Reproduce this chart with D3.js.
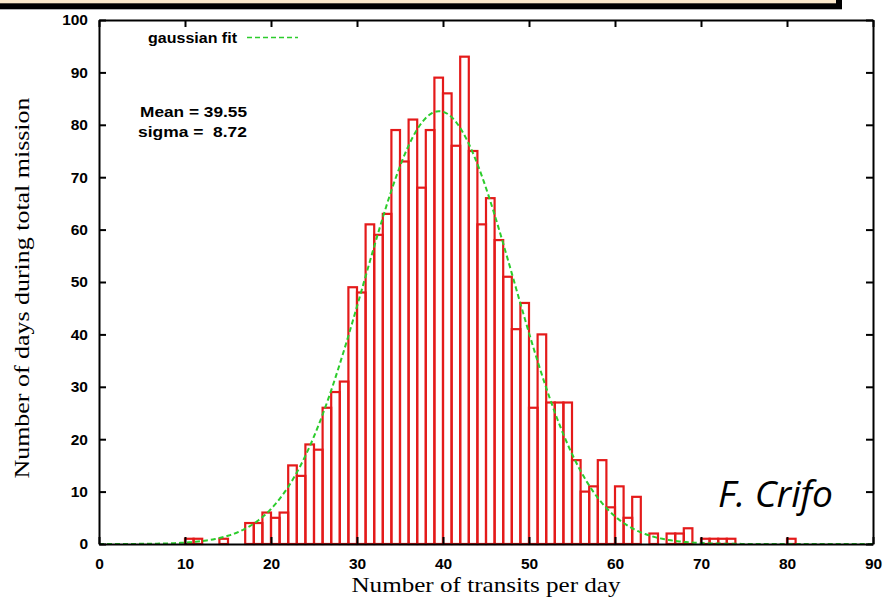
<!DOCTYPE html>
<html>
<head>
<meta charset="utf-8">
<script src="https://cdn.jsdelivr.net/npm/d3@7"></script>
<style>
  html, body { margin: 0; padding: 0; background: #fff; }
  svg { display: block; }
</style>
</head>
<body>
<svg id="canvas" width="886" height="597"></svg>
<script>
// Histogram bins (lower edge of each 1-wide bin) and the counts.
const BINS = [10, 11, 14, 17, 18, 19, 20, 21, 22, 23, 24, 25, 26, 27, 28, 29,
              30, 31, 32, 33, 34, 35, 36, 37, 38, 39, 40, 41, 42, 43, 44, 45,
              46, 47, 48, 49, 50, 51, 52, 53, 54, 55, 56, 57, 58, 59, 60, 61,
              62, 64, 66, 67, 68, 70, 71, 72, 73, 80];
const COUNTS = [1, 1, 1, 4, 4, 6, 5, 6, 15, 13, 19, 18, 26, 29, 31, 49,
                48, 61, 59, 63, 79, 73, 81, 68, 79, 89, 86, 76, 93, 75, 61, 66,
                58, 51, 41, 46, 26, 40, 27, 27, 27, 16, 10, 11, 16, 7, 11, 5,
                9, 2, 2, 2, 3, 1, 1, 1, 1, 1];

// Gaussian fit parameters as printed on the chart (peak).
const FIT_MEAN = 39.55;
const FIT_SIGMA = 8.72;
const FIT_PEAK = 82.6;

const X_TICKS = [0, 10, 20, 30, 40, 50, 60, 70, 80, 90];
const Y_TICKS = [0, 10, 20, 30, 40, 50, 60, 70, 80, 90, 100];

const X_TITLE = "Number of transits per day";
const Y_TITLE = "Number of days during total mission";
const LEGEND_LABEL = "gaussian fit";
const STATS_LINES = ["Mean = 39.55", "sigma =  8.72"];
const CREDIT = "F. Crifo";

(() => {
    const BAR_COLOR = "#e41a1a";
    const FIT_COLOR = "#2ccc2c";
    const TICK_FONT = "'Liberation Sans', Arial, Helvetica, sans-serif";
    const TITLE_FONT = "'Liberation Serif', 'Times New Roman', serif";

    let canvas = d3.select("#canvas");

    // Plot frame in pixels.
    const left = 99, right = 873, top = 20, bottom = 544;

    let x = d3.scaleLinear().domain([0, 90]).range([left, right]);
    let y = d3.scaleLinear().domain([0, 100]).range([bottom, top]);

    // Beige banner corner at the top of the slide.
    canvas.append("rect")
        .attr("x", -10).attr("y", -10)
        .attr("width", 852).attr("height", 19.3)
        .attr("fill", "#000");
    canvas.append("rect")
        .attr("x", -10).attr("y", -10)
        .attr("width", 846).attr("height", 13.3)
        .attr("fill", "#fbe9cb");

    // Histogram boxes.
    let bars = BINS.map((b, i) => ({ bin: b, count: COUNTS[i] }));
    canvas.append("g")
        .selectAll("rect")
        .data(bars)
        .enter()
        .append("rect")
        .attr("x", d => x(d.bin))
        .attr("y", d => y(d.count))
        .attr("width", d => x(d.bin + 1) - x(d.bin))
        .attr("height", d => y(0) - y(d.count))
        .attr("fill", "none")
        .attr("stroke", BAR_COLOR)
        .attr("stroke-width", 2.2);

    // Gaussian fit curve.
    let gauss = v => FIT_PEAK * Math.exp(-0.5 * Math.pow((v - FIT_MEAN) / FIT_SIGMA, 2));
    let fitX = d3.range(0, 90.01, 0.25);
    let line = d3.line()
        .x(d => x(d))
        .y(d => y(gauss(d)));
    canvas.append("path")
        .datum(fitX)
        .attr("d", line)
        .attr("fill", "none")
        .attr("stroke", FIT_COLOR)
        .attr("stroke-width", 2)
        .attr("stroke-dasharray", "5,3");

    // Axes: ticks point inward, gnuplot style.
    function styleAxis(g, withLabels) {
        g.select(".domain").attr("stroke", "#000").attr("stroke-width", 2);
        g.selectAll(".tick line").attr("stroke", "#000").attr("stroke-width", 2);
        g.selectAll(".tick text")
            .attr("fill", "#000")
            .attr("font-family", TICK_FONT)
            .attr("font-weight", "bold")
            .attr("font-size", 15.5);
        if (!withLabels) {
            g.selectAll(".tick text").remove();
        }
    }

    canvas.append("g")
        .attr("transform", `translate(0,${bottom})`)
        .call(d3.axisBottom(x).tickValues(X_TICKS).tickSize(-7).tickSizeOuter(0).tickPadding(14))
        .call(g => styleAxis(g, true));

    canvas.append("g")
        .attr("transform", `translate(${left},0)`)
        .call(d3.axisLeft(y).tickValues(Y_TICKS).tickSize(-7).tickSizeOuter(0).tickPadding(11))
        .call(g => styleAxis(g, true));

    canvas.append("g")
        .attr("transform", `translate(0,${top})`)
        .call(d3.axisTop(x).tickValues(X_TICKS).tickSize(-7).tickSizeOuter(0))
        .call(g => styleAxis(g, false));

    canvas.append("g")
        .attr("transform", `translate(${right},0)`)
        .call(d3.axisRight(y).tickValues(Y_TICKS).tickSize(-7).tickSizeOuter(0))
        .call(g => styleAxis(g, false));

    // Axis titles.
    canvas.append("text")
        .attr("x", 486)
        .attr("y", 592)
        .attr("text-anchor", "middle")
        .attr("font-family", TITLE_FONT)
        .attr("font-size", 22)
        .attr("textLength", 269)
        .attr("lengthAdjust", "spacingAndGlyphs")
        .text(X_TITLE);

    canvas.append("text")
        .attr("transform", "translate(29,288) rotate(-90)")
        .attr("text-anchor", "middle")
        .attr("font-family", TITLE_FONT)
        .attr("font-size", 22)
        .attr("textLength", 381)
        .attr("lengthAdjust", "spacingAndGlyphs")
        .text(Y_TITLE);

    // Legend.
    canvas.append("text")
        .attr("x", 148)
        .attr("y", 43)
        .attr("font-family", TICK_FONT)
        .attr("font-weight", "bold")
        .attr("font-size", 15)
        .attr("textLength", 89)
        .attr("lengthAdjust", "spacingAndGlyphs")
        .text(LEGEND_LABEL);
    canvas.append("line")
        .attr("x1", 247).attr("x2", 298)
        .attr("y1", 37.5).attr("y2", 37.5)
        .attr("stroke", FIT_COLOR)
        .attr("stroke-width", 1.5)
        .attr("stroke-dasharray", "5,3");

    // Fit statistics.
    const statsWidths = [107, 109];
    canvas.append("g")
        .selectAll("text")
        .data(STATS_LINES)
        .enter()
        .append("text")
        .attr("x", (d, i) => i === 0 ? 140 : 138)
        .attr("y", (d, i) => 117 + i * 19.5)
        .attr("font-family", TICK_FONT)
        .attr("font-weight", "bold")
        .attr("font-size", 15.5)
        .attr("xml:space", "preserve")
        .attr("textLength", (d, i) => statsWidths[i])
        .attr("lengthAdjust", "spacingAndGlyphs")
        .style("white-space", "pre")
        .text(d => d);

    // Credit.
    canvas.append("text")
        .attr("x", 718)
        .attr("y", 507)
        .attr("font-family", "'Open Sans', 'DejaVu Sans', sans-serif")
        .attr("font-style", "italic")
        .attr("font-size", 37)
        .attr("textLength", 115)
        .attr("lengthAdjust", "spacingAndGlyphs")
        .text(CREDIT);
})();
</script>
</body>
</html>
